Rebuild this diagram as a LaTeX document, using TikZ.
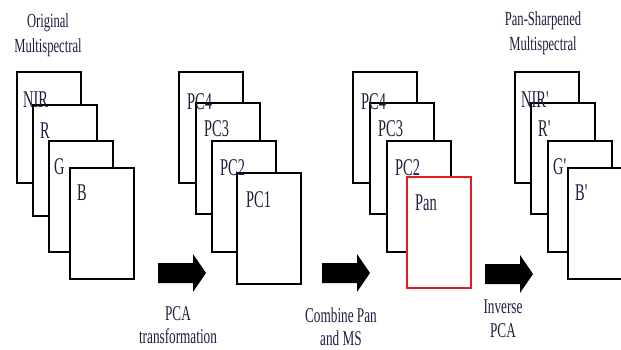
\documentclass[tikz,border=0pt]{standalone}
\usepackage{fontspec}
\newfontfamily\narrowttl[FakeStretch=0.63]{Liberation Serif}
\newfontfamily\narrowlab[FakeStretch=0.6]{Liberation Serif}
\usetikzlibrary{calc}
\definecolor{ink}{RGB}{30,30,65}
\definecolor{panred}{RGB}{228,28,34}
\tikzset{
  band/.style={draw=black, fill=white, line width=1.4pt, inner sep=0pt, outer sep=0pt,
    anchor=north west, minimum width=64pt, minimum height=111pt},
  redband/.style={band, draw=panred},
  lab/.style={text=ink, inner sep=0pt, anchor=base west, font=\narrowlab\fontsize{24}{26}\selectfont},
  ttl/.style={text=ink, inner sep=0pt, anchor=base, font=\narrowttl\fontsize{20}{22}\selectfont},
  alab/.style={text=ink, inner sep=0pt, anchor=base, font=\narrowttl\fontsize{21}{22}\selectfont},
  pics/blockarrow/.style={code={
    \fill[black] (0,-10) -- (35,-10) -- (35,-19) -- (48,0) -- (35,19) -- (35,10) -- (0,10) -- cycle;}}
}
\begin{document}
\begin{tikzpicture}[x=1pt, y=-1pt]
\clip (0,0) rectangle (621,349);
\useasboundingbox (0,0) rectangle (621,349);
% group 1: original multispectral
\node[ttl] (t1a) at (48,27) {Original};
\node[ttl] (t1b) at (48,52) {Multispectral};
\node[band] (nir) at (17,72) {};
\node[band] (r) at (33,105) {};
\node[band] (g) at (49,141) {};
\node[band] (b) at (70,168) {};
\node[lab] at ($(nir.north west)+(6,35)$) {NIR};
\node[lab] at ($(r.north west)+(7,33)$) {R};
\node[lab] at ($(g.north west)+(5,33)$) {G};
\node[lab] at ($(b.north west)+(7,32)$) {B};
% arrow 1
\pic (a1) at (158,273) {blockarrow};
\node[alab] (l1a) at (178,320) {PCA};
\node[alab] (l1b) at (178,343) {transformation};
% group 2: principal components
\node[band] (pc4) at (179,72) {};
\node[band] (pc3) at (196,103) {};
\node[band] (pc2) at (212,141) {};
\node[band] (pc1) at (237,173) {};
\node[lab] at ($(pc4.north west)+(8,37)$) {PC4};
\node[lab] at ($(pc3.north west)+(8,33)$) {PC3};
\node[lab] at ($(pc2.north west)+(8,34)$) {PC2};
\node[lab] at ($(pc1.north west)+(9,34)$) {PC1};
% arrow 2
\pic (a2) at (322,273) {blockarrow};
\node[alab] (l2a) at (341,322) {Combine Pan};
\node[alab] (l2b) at (341,345) {and MS};
% group 3: combined
\node[band] (qc4) at (353,72) {};
\node[band] (qc3) at (370,103) {};
\node[band] (qc2) at (387,141) {};
\node[redband] (pan) at (407,177) {};
\node[lab] at ($(qc4.north west)+(8,37)$) {PC4};
\node[lab] at ($(qc3.north west)+(8,33)$) {PC3};
\node[lab] at ($(qc2.north west)+(8,34)$) {PC2};
\node[lab] at ($(pan.north west)+(8,33)$) {Pan};
% arrow 3
\pic (a3) at (485,274) {blockarrow};
\node[alab] (l3a) at (503,313) {Inverse};
\node[alab] (l3b) at (503,337) {PCA};
% group 4: pan-sharpened
\node[ttl] (t4a) at (543,25) {Pan-Sharpened};
\node[ttl] (t4b) at (543,50) {Multispectral};
\node[band] (nirp) at (515,72) {};
\node[band] (rp) at (531,103) {};
\node[band] (gp) at (548,141) {};
\node[band] (bp) at (568,168) {};
\node[lab] at ($(nirp.north west)+(6,35)$) {NIR'};
\node[lab] at ($(rp.north west)+(7,33)$) {R'};
\node[lab] at ($(gp.north west)+(5,33)$) {G'};
\node[lab] at ($(bp.north west)+(7,32)$) {B'};
\end{tikzpicture}
\end{document}
